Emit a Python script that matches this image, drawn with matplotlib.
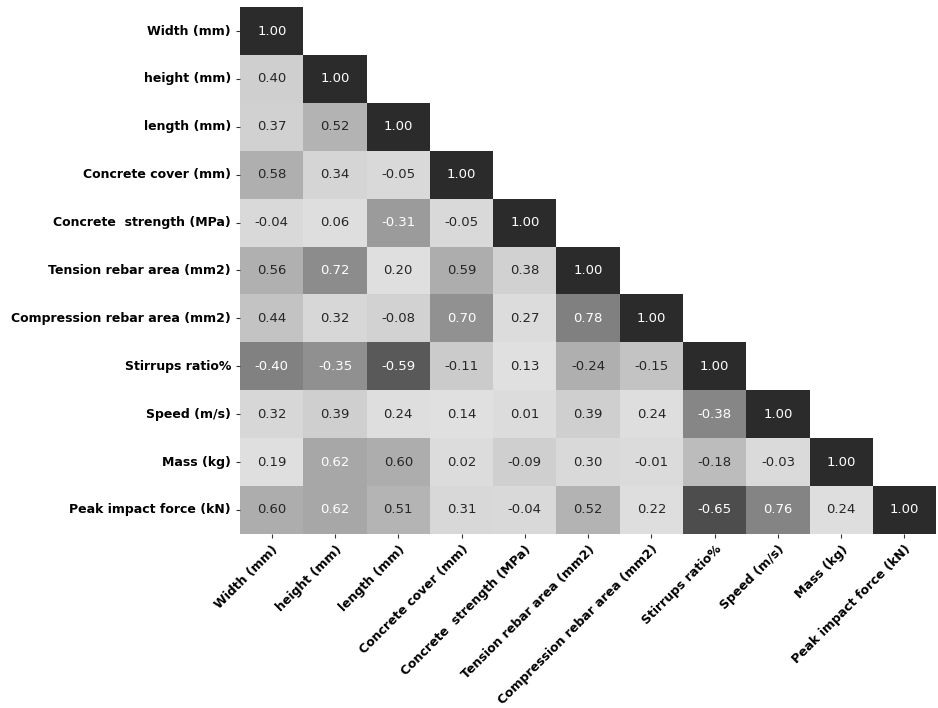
import matplotlib
matplotlib.use('Agg')
import matplotlib.pyplot as plt
from matplotlib.colors import LinearSegmentedColormap
import numpy as np
import seaborn as sns

labels = ['Width (mm)', 'height (mm)', 'length (mm)', 'Concrete cover (mm)',
          'Concrete  strength (MPa)', 'Tension rebar area (mm2)',
          'Compression rebar area (mm2)', 'Stirrups ratio%', 'Speed (m/s)',
          'Mass (kg)', 'Peak impact force (kN)']

# lower triangle of the correlation matrix, row by row
rows = [
    [1.00],
    [0.40, 1.00],
    [0.37, 0.52, 1.00],
    [0.58, 0.34, -0.05, 1.00],
    [-0.04, 0.06, -0.31, -0.05, 1.00],
    [0.56, 0.72, 0.20, 0.59, 0.38, 1.00],
    [0.44, 0.32, -0.08, 0.70, 0.27, 0.78, 1.00],
    [-0.40, -0.35, -0.59, -0.11, 0.13, -0.24, -0.15, 1.00],
    [0.32, 0.39, 0.24, 0.14, 0.01, 0.39, 0.24, -0.38, 1.00],
    [0.19, 0.62, 0.60, 0.02, -0.09, 0.30, -0.01, -0.18, -0.03, 1.00],
    [0.60, 0.62, 0.51, 0.31, -0.04, 0.52, 0.22, -0.65, 0.76, 0.24, 1.00],
]

n = len(labels)
corr = np.zeros((n, n))
for i, r in enumerate(rows):
    corr[i, :len(r)] = r
    corr[:len(r), i] = r
mask = np.triu(np.ones_like(corr, dtype=bool), k=1)

vmin, vmax = -0.65, 1.0
# grey diverging map: dark at both ends, lightest near the middle
stops = [(-0.65, 0.30), (-0.40, 0.51), (-0.24, 0.69), (-0.05, 0.85),
         (0.10, 0.88), (0.25, 0.87), (0.40, 0.81), (0.50, 0.71),
         (0.58, 0.685), (0.61, 0.672), (0.72, 0.55), (0.78, 0.50), (1.00, 0.17)]
cmap = LinearSegmentedColormap.from_list(
    'greys_div', [((v - vmin) / (vmax - vmin), (g, g, g)) for v, g in stops])

fig = plt.figure(figsize=(9.38, 7.08), dpi=100)
ax = fig.add_axes([0.256, 0.246, 0.742, 0.744])
sns.heatmap(corr, mask=mask, cmap=cmap, vmin=vmin, vmax=vmax, annot=True,
            fmt='.2f', annot_kws={'fontsize': 9.5}, cbar=False, ax=ax,
            xticklabels=labels, yticklabels=labels)
ax.set_xticklabels(labels, rotation=45, ha='right', rotation_mode='anchor',
                   fontsize=9, fontweight='bold')
ax.set_yticklabels(labels, rotation=0, fontsize=9, fontweight='bold')
ax.tick_params(length=3, color='#333333')
fig.savefig('out.png', dpi=100)
